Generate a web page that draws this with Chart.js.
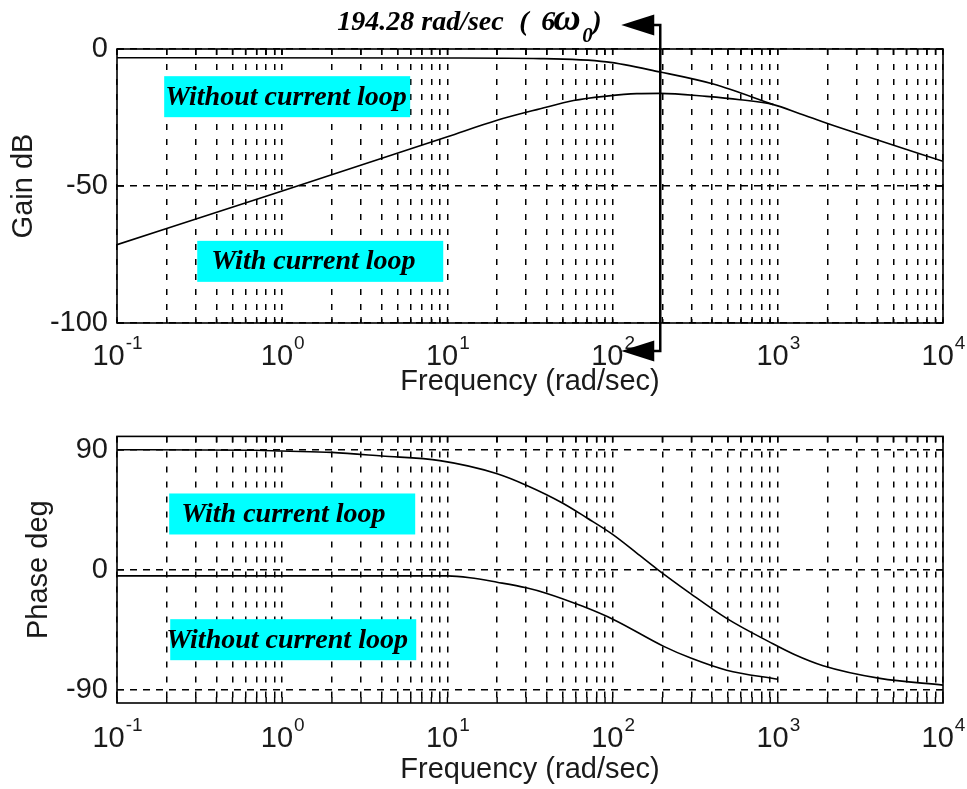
<!DOCTYPE html>
<html>
<head>
<meta charset="utf-8">
<script src="https://cdn.jsdelivr.net/npm/chart.js@4.4.1/dist/chart.umd.min.js"></script>
<style>
  html, body { margin: 0; padding: 0; background: #fff; }
  .wrap { position: relative; width: 967px; height: 789px; overflow: hidden; }
  #gainBox { position: absolute; left: 0; top: 0; width: 967px; height: 410px; }
  #phaseBox { position: absolute; left: 0; top: 410px; width: 967px; height: 379px; }
</style>
</head>
<body>
<div class="wrap">
  <div id="gainBox"><canvas id="gainChart"></canvas></div>
  <div id="phaseBox"><canvas id="phaseChart"></canvas></div>
</div>
<script>
// --- values ---
const gainFreqWith = [0.1, 1, 10, 20, 36.5, 58, 92, 140, 194, 370, 590, 941, 1360, 2000, 4150, 10000];
const gainWith = [-71.4, -51.8, -32.0, -26.0, -21.8, -18.8, -17.2, -16.3, -16.2, -17.3, -18.5, -20.3, -23.6, -27.2, -33.5, -41.0];

const gainFreqWithout = [0.1, 10, 36.5, 92, 194, 407, 941];
const gainWithout = [-3.2, -3.3, -3.5, -4.7, -8.4, -12.8, -20.3];

const phaseFreqWith = [0.1, 0.7, 1, 2, 4, 9, 20, 30, 50, 70, 100, 140, 185, 295, 490, 900, 1250, 1880, 4150, 10000];
const phaseWith = [90, 89.6, 89, 88, 85.3, 81.8, 72, 63.4, 49.9, 38.8, 26.5, 12.5, 0.7, -17.7, -36.5, -54.5, -63.4, -72, -81.5, -86.6];

const phaseFreqWithout = [0.1, 10, 13.7, 20, 30, 40, 66, 101, 204, 300, 490, 1000];
const phaseWithout = [-4.6, -4.6, -6.0, -9.4, -13.6, -17.8, -27.5, -37.3, -57.5, -66.5, -75.4, -82.2];

const decadeExponents = [-1, 0, 1, 2, 3, 4];
const gainTicks = [-100, -50, 0];
const phaseTicks = [-90, 0, 90];
const markerFreq = 194.28;

// grid at 1..9 x each decade
const gridFreqs = [];
decadeExponents.forEach(e => {
  for (let m = 1; m <= 9; m++) {
    const v = m * Math.pow(10, e);
    if (v <= Math.pow(10, decadeExponents[decadeExponents.length - 1])) gridFreqs.push(+v.toPrecision(3));
  }
});

const toPoints = (xs, ys) => xs.map((v, i) => ({ x: v, y: ys[i] }));

const sansFont = { family: '"Liberation Sans", Arial, sans-serif', size: 29 };
const serifBI = size => 'italic bold ' + size + 'px "Liberation Serif", "Times New Roman", serif';
const inkColor = '#1a1a1a';

// frame, inside ticks, 10^n labels, cyan notes, 194.28 marker
const bodeDecor = {
  id: 'bodeDecor',
  afterDraw(chart, args, opts) {
    const { ctx, chartArea: a, scales: { x, y } } = chart;
    ctx.save();

    ctx.strokeStyle = '#000';
    ctx.lineWidth = 1.6;
    ctx.strokeRect(a.left, a.top, a.right - a.left, a.bottom - a.top);

    ctx.beginPath();
    x.ticks.forEach(t => {
      const px = x.getPixelForValue(t.value);
      ctx.moveTo(px, a.top); ctx.lineTo(px, a.top + 6);
      ctx.moveTo(px, a.bottom); ctx.lineTo(px, a.bottom - 6);
    });
    y.ticks.forEach(t => {
      const py = y.getPixelForValue(t.value);
      ctx.moveTo(a.left, py); ctx.lineTo(a.left + 7, py);
      ctx.moveTo(a.right, py); ctx.lineTo(a.right - 7, py);
    });
    ctx.lineWidth = 1.4;
    ctx.stroke();

    // decade labels like MATLAB: 10 with raised exponent
    ctx.fillStyle = inkColor;
    ctx.textBaseline = 'alphabetic';
    ctx.textAlign = 'left';
    decadeExponents.forEach(e => {
      const px = x.getPixelForValue(Math.pow(10, e));
      ctx.font = '29px ' + sansFont.family;
      const wb = ctx.measureText('10').width;
      ctx.font = '19px ' + sansFont.family;
      const ws = ctx.measureText(String(e)).width;
      const left = px - (wb + ws) / 2;
      const base = a.bottom + opts.labelGap;
      ctx.font = '29px ' + sansFont.family;
      ctx.fillText('10', left, base);
      ctx.font = '19px ' + sansFont.family;
      ctx.fillText(String(e), left + wb + 1, base - 16);
    });

    // cyan notes
    (opts.notes || []).forEach(n => {
      const bx = x.getPixelForValue(n.freq);
      const cy = y.getPixelForValue(n.value);
      ctx.fillStyle = '#00ffff';
      ctx.fillRect(bx, cy - 20.5, 246, 41);
      ctx.fillStyle = '#000';
      ctx.font = serifBI(28);
      ctx.fillText(n.text, bx + n.textOffset, cy + 8);
    });

    // frequency marker with arrows
    if (opts.marker) {
      const mx = x.getPixelForValue(markerFreq);
      const top = opts.marker.top, bottom = opts.marker.bottom;
      ctx.strokeStyle = '#000';
      ctx.lineWidth = 2.5;
      ctx.beginPath();
      ctx.moveTo(mx - 10, top); ctx.lineTo(mx, top); ctx.lineTo(mx, bottom); ctx.lineTo(mx - 10, bottom);
      ctx.stroke();
      ctx.fillStyle = '#000';
      [top, bottom].forEach(yy => {
        ctx.beginPath();
        ctx.moveTo(mx - 39, yy);
        ctx.lineTo(mx - 6, yy - 10.5);
        ctx.lineTo(mx - 6, yy + 10.5);
        ctx.closePath();
        ctx.fill();
      });

      const sx = mx - 323;
      const base = top + 5;
      ctx.font = serifBI(28);
      ctx.fillText(markerFreq + ' rad/sec', sx, base);
      ctx.fillText('(', sx + 182, base);
      ctx.fillText('6', sx + 204, base);
      ctx.font = serifBI(38);
      ctx.fillText('\u03c9', sx + 216, base);
      ctx.font = serifBI(21);
      ctx.fillText('0', sx + 245, base + 12);
      ctx.font = serifBI(28);
      ctx.fillText(')', sx + 255, base);
    }
    ctx.restore();
  }
};

function bodeOptions(cfg) {
  return {
    responsive: true,
    maintainAspectRatio: false,
    animation: false,
    layout: { padding: { top: cfg.padTop, right: 24, bottom: 0, left: 0 } },
    plugins: {
      legend: { display: false },
      tooltip: { enabled: false },
      bodeDecor: cfg.decor
    },
    scales: {
      x: {
        type: 'logarithmic',
        min: 0.1,
        max: 10000,
        afterBuildTicks: s => { s.ticks = gridFreqs.map(v => ({ value: v })); },
        afterFit: s => { s.height = cfg.xHeight; },
        ticks: { display: false },
        grid: { color: '#000', lineWidth: 1.5, drawTicks: false },
        border: { display: false, dash: [6, 9] },
        title: {
          display: true,
          text: 'Frequency (rad/sec)',
          color: inkColor,
          font: sansFont,
          padding: { top: 0, bottom: cfg.xTitlePad }
        }
      },
      y: {
        min: cfg.yMin,
        max: cfg.yMax,
        afterBuildTicks: s => { s.ticks = cfg.yTicks.map(v => ({ value: v })); },
        afterFit: s => { s.width = 117; },
        ticks: { color: inkColor, font: sansFont, padding: 9 },
        grid: { color: '#000', lineWidth: 1.5, drawTicks: false },
        border: { display: false, dash: [7, 6] },
        title: {
          display: true,
          text: cfg.yTitle,
          color: inkColor,
          font: sansFont,
          padding: { top: cfg.yTitlePad, bottom: 0 }
        }
      }
    }
  };
}

const lineStyle = {
  borderColor: '#000',
  borderWidth: 1.6,
  pointRadius: 0,
  fill: false,
  cubicInterpolationMode: 'monotone'
};

new Chart(document.getElementById('gainChart'), {
  type: 'line',
  data: {
    datasets: [
      Object.assign({ label: 'Without current loop', data: toPoints(gainFreqWithout, gainWithout) }, lineStyle),
      Object.assign({ label: 'With current loop', data: toPoints(gainFreqWith, gainWith) }, lineStyle)
    ]
  },
  options: bodeOptions({
    padTop: 49, xHeight: 87, xTitlePad: 11, yMin: -100, yMax: 0, yTicks: gainTicks,
    yTitle: 'Gain dB', yTitlePad: 7,
    decor: {
      labelGap: 42,
      marker: { top: 25, bottom: 351 },
      notes: [
        { text: 'Without current loop', freq: 0.193, value: -17.4, textOffset: 1 },
        { text: 'With current loop', freq: 0.306, value: -77.5, textOffset: 14 }
      ]
    }
  }),
  plugins: [bodeDecor]
});

new Chart(document.getElementById('phaseChart'), {
  type: 'line',
  data: {
    datasets: [
      Object.assign({ label: 'With current loop', data: toPoints(phaseFreqWith, phaseWith) }, lineStyle),
      Object.assign({ label: 'Without current loop', data: toPoints(phaseFreqWithout, phaseWithout) }, lineStyle)
    ]
  },
  options: bodeOptions({
    padTop: 22, xHeight: 86, xTitlePad: 2, yMin: -100, yMax: 100, yTicks: phaseTicks,
    yTitle: 'Phase deg', yTitlePad: 22,
    decor: {
      labelGap: 44,
      notes: [
        { text: 'With current loop', freq: 0.207, value: 41.8, textOffset: 12 },
        { text: 'Without current loop', freq: 0.21, value: -52.5, textOffset: -4 }
      ]
    }
  }),
  plugins: [bodeDecor]
});
</script>
</body>
</html>
